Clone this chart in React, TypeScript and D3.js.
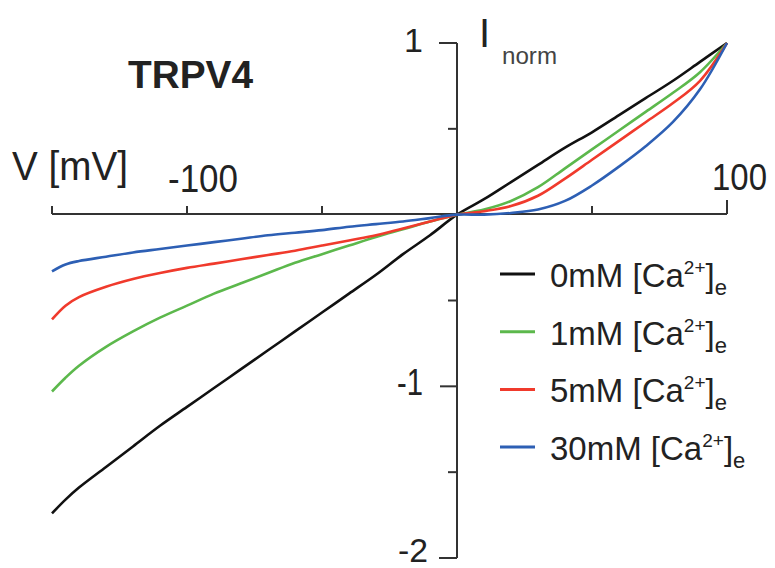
import React, { useEffect, useRef } from 'react';
import * as d3 from 'd3';

// membrane voltage (mV) sample points
const voltages = [-150, -145, -140, -130, -120, -110, -100, -90, -80, -70, -60, -50, -40, -30, -20, -10, 0, 10, 20, 30, 40, 50, 60, 70, 80, 90, 100];

// normalised currents for each extracellular Ca2+ level
const ca0 = [-1.74, -1.66, -1.59, -1.47, -1.35, -1.23, -1.12, -1.01, -0.9, -0.79, -0.68, -0.57, -0.46, -0.35, -0.23, -0.12, 0, 0.09, 0.19, 0.29, 0.39, 0.48, 0.58, 0.68, 0.78, 0.89, 1.0];
const ca1 = [-1.03, -0.95, -0.88, -0.77, -0.68, -0.6, -0.53, -0.46, -0.4, -0.34, -0.28, -0.23, -0.18, -0.13, -0.085, -0.04, 0, 0.03, 0.08, 0.16, 0.27, 0.38, 0.49, 0.6, 0.71, 0.83, 1.0];
const ca5 = [-0.61, -0.53, -0.48, -0.42, -0.375, -0.34, -0.31, -0.285, -0.26, -0.235, -0.21, -0.18, -0.15, -0.12, -0.08, -0.04, 0, 0.02, 0.05, 0.11, 0.21, 0.32, 0.43, 0.54, 0.65, 0.78, 1.0];
const ca30 = [-0.33, -0.29, -0.27, -0.245, -0.22, -0.2, -0.18, -0.16, -0.14, -0.12, -0.105, -0.09, -0.07, -0.055, -0.04, -0.02, 0, 0.0, 0.01, 0.03, 0.08, 0.17, 0.28, 0.4, 0.54, 0.73, 1.0];

const seriesNames = ['0mM', '1mM', '5mM', '30mM'];
const seriesColors = ['#111111', '#5cb84c', '#f03a2c', '#2d5fb4'];

const xTicks = [-150, -100, -50, 50, 100];
const yTicks = [1, 0.5, -0.5, -1, -1.5, -2];

const FONT = '"Liberation Sans", Arial, sans-serif';

export default function App() {
  const svgRef = useRef<SVGSVGElement>(null);

  useEffect(() => {
    const svg = d3.select(svgRef.current);
    svg.selectAll('*').remove();

    const x = d3.scaleLinear().domain([-150, 100]).range([52, 727]);
    const y = d3.scaleLinear().domain([-2, 1]).range([558, 43]);
    const x0 = x(0);
    const y0 = y(0) - 0.7;

    const axisColor = '#333';

    // x axis (horizontal line through I = 0)
    const gx = svg.append('g');
    gx.append('line')
      .attr('x1', x(-150)).attr('x2', x(100))
      .attr('y1', y0).attr('y2', y0)
      .attr('stroke', axisColor).attr('stroke-width', 2);
    gx.selectAll('.xt')
      .data(xTicks)
      .enter()
      .append('line')
      .attr('x1', d => x(d)).attr('x2', d => x(d))
      .attr('y1', y0).attr('y2', d => (d === 100 ? y0 - 14 : y0 - 8))
      .attr('stroke', axisColor).attr('stroke-width', 2);

    // y axis (vertical line through V = 0)
    const gy = svg.append('g');
    gy.append('line')
      .attr('x1', x0).attr('x2', x0)
      .attr('y1', y(1)).attr('y2', y(-2))
      .attr('stroke', axisColor).attr('stroke-width', 2);
    gy.selectAll('.yt')
      .data(yTicks)
      .enter()
      .append('line')
      .attr('x1', x0)
      .attr('x2', d => (d === 1 || d === -2 ? x0 - 18 : d === -1 ? x0 - 17 : x0 - 9))
      .attr('y1', d => y(d)).attr('y2', d => y(d))
      .attr('stroke', axisColor).attr('stroke-width', 2);

    // tick labels
    const labelStyle = (sel: any) =>
      sel.attr('font-family', FONT).attr('fill', '#222').attr('lengthAdjust', 'spacingAndGlyphs');

    svg.append('text').call(labelStyle)
      .attr('x', 168).attr('y', 192).attr('font-size', 39).attr('textLength', 70).text('-100');
    svg.append('text').call(labelStyle)
      .attr('x', 712).attr('y', 190).attr('font-size', 36).attr('textLength', 55).text('100');
    svg.append('text').call(labelStyle)
      .attr('x', 12).attr('y', 180).attr('font-size', 41).attr('textLength', 116).text('V [mV]');

    svg.append('text').call(labelStyle)
      .attr('x', 423).attr('y', 52).attr('font-size', 34).attr('text-anchor', 'end').text('1');
    svg.append('text').call(labelStyle)
      .attr('x', 397).attr('y', 395).attr('font-size', 37).attr('textLength', 26).text('-1');
    svg.append('text').call(labelStyle)
      .attr('x', 398).attr('y', 562).attr('font-size', 33).attr('textLength', 30).text('-2');

    // I_norm label
    svg.append('text').call(labelStyle)
      .attr('x', 479).attr('y', 47).attr('font-size', 40).text('I');
    svg.append('text').call(labelStyle)
      .attr('x', 502).attr('y', 64).attr('font-size', 24).attr('fill', '#444')
      .attr('textLength', 55).text('norm');

    // title
    svg.append('text')
      .attr('x', 128).attr('y', 88)
      .attr('font-family', FONT).attr('font-weight', 'bold')
      .attr('font-size', 38).attr('fill', '#222')
      .attr('textLength', 125).attr('lengthAdjust', 'spacingAndGlyphs')
      .text('TRPV4');

    // curves
    const allSeries = [ca0, ca1, ca5, ca30];
    const line = d3.line<number>()
      .x((_, i) => x(voltages[i]))
      .y(d => y(d))
      .curve(d3.curveCatmullRom.alpha(0.5));

    svg.append('g')
      .selectAll('path')
      .data(allSeries)
      .enter()
      .append('path')
      .attr('d', d => line(d))
      .attr('fill', 'none')
      .attr('stroke', (_, i) => seriesColors[i])
      .attr('stroke-width', 2.6)
      .attr('stroke-linejoin', 'round');

    // legend
    const legend = svg.append('g');
    seriesNames.forEach((name, i) => {
      const ly = 274 + i * 57.7;
      legend.append('line')
        .attr('x1', 500).attr('x2', 535)
        .attr('y1', ly).attr('y2', ly)
        .attr('stroke', seriesColors[i]).attr('stroke-width', 3);
      const t = legend.append('text')
        .attr('x', 550).attr('y', ly + 13)
        .attr('font-family', FONT).attr('font-size', 33).attr('fill', '#222');
      t.append('tspan').text(`${name} [Ca`);
      t.append('tspan').attr('font-size', 19).attr('dy', -13).text('2+');
      t.append('tspan').attr('dy', 13).text(']');
      t.append('tspan').attr('font-size', 22).attr('dy', 8).text('e');
    });
  }, []);

  return (
    <div style={{ position: 'fixed', left: 0, top: 0 }}>
      <svg ref={svgRef} width={775} height={568} style={{ display: 'block', background: '#fff' }} />
    </div>
  );
}
